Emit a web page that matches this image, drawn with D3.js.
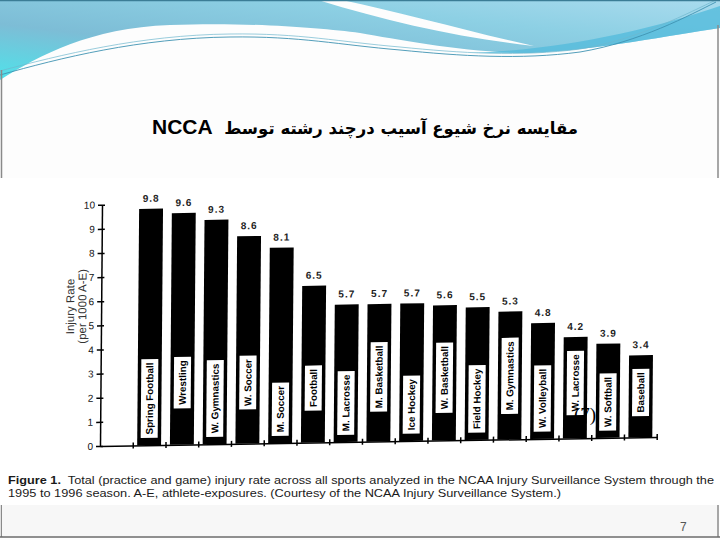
<!DOCTYPE html>
<html>
<head>
<meta charset="utf-8">
<script src="https://cdn.jsdelivr.net/npm/d3@7"></script>
<style>
  body { margin: 0; background: #fff; }
  svg { display: block; }
</style>
</head>
<body>
<script>
const WIDTH = 720;
const HEIGHT = 540;

// data
const categories = ["Spring Football", "Wrestling", "W. Gymnastics", "W. Soccer", "M. Soccer",
  "Football", "M. Lacrosse", "M. Basketball", "Ice Hockey", "W. Basketball", "Field Hockey",
  "M. Gymnastics", "W. Volleyball", "W. Lacrosse", "W. Softball", "Baseball"];
const rates = [9.8, 9.6, 9.3, 8.6, 8.1, 6.5, 5.7, 5.7, 5.7, 5.6, 5.5, 5.3, 4.8, 4.2, 3.9, 3.4];
const yTicks = [0, 1, 2, 3, 4, 5, 6, 7, 8, 9, 10];

const titleFa = "مقایسه نرخ شیوع آسیب درچند رشته توسط";
const titleEn = "NCCA";
const captionBold = "Figure 1.";
const caption1 = "  Total (practice and game) injury rate across all sports analyzed in the NCAA Injury Surveillance System through the";
const caption2 = "1995 to 1996 season. A-E, athlete-exposures. (Courtesy of the NCAA Injury Surveillance System.)";

const ORIGIN = {x: 100, y: 446};
const CHART_W = 556.7, CHART_H = 241.3;

const svg = d3.select("body").append("svg")
  .attr("width", WIDTH)
  .attr("height", HEIGHT);

svg.append("rect").attr("width", WIDTH).attr("height", HEIGHT).attr("fill", "#fdfdfd");

// slide decoration (top wave)
const defs = svg.append("defs");
const grad = defs.append("linearGradient").attr("id", "wave")
  .attr("x1", 0).attr("y1", 1).attr("x2", 1).attr("y2", 0);
grad.append("stop").attr("offset", 0).attr("stop-color", "#4fe2ea");
grad.append("stop").attr("offset", 0.35).attr("stop-color", "#7dbdd6");
grad.append("stop").attr("offset", 0.7).attr("stop-color", "#8dd0e4");
grad.append("stop").attr("offset", 1).attr("stop-color", "#a9dbee");

svg.append("path")
  .attr("d", "M0,0 L720,0 L720,28 C670,35 600,50 530,53 C470,53 400,40 360,33 C320,28 250,22 170,25 C90,28 40,55 0,80 Z")
  .attr("fill", "url(#wave)");
svg.append("path")
  .attr("d", "M470,53 C560,50 650,30 720,6 L720,28 C670,35 600,50 530,53 Z")
  .attr("fill", "#55bbdc").attr("opacity", 0.8);
svg.append("path")
  .attr("d", "M318,0 L342,0 C400,12 470,32 534,46 C460,38 390,22 318,0 Z")
  .attr("fill", "#fdfdfd");
svg.append("path")
  .attr("d", "M0,75 C60,58 140,38 230,37 C300,36 340,45 400,50 C460,56 520,60 580,52 C640,42 690,15 716,2")
  .attr("fill", "none").attr("stroke", "#3f93b2").attr("stroke-width", 0.9);
svg.append("path")
  .attr("d", "M0,71 C60,55 140,35 230,34 C300,33 340,42 400,47 C460,53 520,57 580,49 C640,39 690,12 716,0")
  .attr("fill", "none").attr("stroke", "#6fb7cf").attr("stroke-width", 0.7);

// slide frame
svg.append("line").attr("x1", 0).attr("x2", WIDTH).attr("y1", 0.5).attr("y2", 0.5)
  .attr("stroke", "#3b7d96").attr("stroke-width", 1.5);
svg.append("line").attr("x1", 1.5).attr("x2", 1.5).attr("y1", 70).attr("y2", HEIGHT - 3)
  .attr("stroke", "#8a8a8a").attr("stroke-width", 1.5);
svg.append("line").attr("x1", 718).attr("x2", 718).attr("y1", 25).attr("y2", HEIGHT - 3)
  .attr("stroke", "#8a8a8a").attr("stroke-width", 1.5);
svg.append("line").attr("x1", 0).attr("x2", WIDTH).attr("y1", HEIGHT - 3).attr("y2", HEIGHT - 3)
  .attr("stroke", "#6a6a6a").attr("stroke-width", 1.5);

// title
svg.append("text")
  .attr("x", 152).attr("y", 134)
  .attr("font-family", "Liberation Sans, Arial, sans-serif")
  .attr("font-weight", "bold").attr("font-size", 21)
  .attr("fill", "#000")
  .text(titleEn);

const fa = svg.append("text")
  .attr("x", 578).attr("y", 134)
  .attr("text-anchor", "end")
  .attr("font-family", "DejaVu Sans, Noto Sans, sans-serif")
  .attr("font-weight", "bold")
  .attr("font-size", 19)
  .attr("fill", "#000")
  .text(titleFa);
const faLen = fa.node().getComputedTextLength();
fa.attr("font-size", 19 * 354 / faLen);

// scanned figure area
svg.append("rect").attr("x", 0).attr("y", 178).attr("width", WIDTH).attr("height", 327)
  .attr("fill", "#fff");
svg.append("rect").attr("x", 2).attr("y", 505).attr("width", 715).attr("height", 31)
  .attr("fill", "#f7f7f7");

// slightly skewed, like the scan
const g = svg.append("g")
  .attr("transform", `matrix(1,-0.0162,-0.0083,1,${ORIGIN.x},${ORIGIN.y})`);

const Y_SCALE = d3.scaleLinear().domain([0, 10]).range([0, -CHART_H]);
const SLOTS = d3.scaleLinear().domain([0, 17]).range([0, CHART_W]);
const X_SCALE = d3.scaleBand().domain(categories)
  .range([SLOTS(1), SLOTS(17)])
  .paddingInner(0.27).paddingOuter(0.135);
const bw = X_SCALE.bandwidth();

g.selectAll(".bar")
  .data(categories)
  .enter().append("rect")
  .attr("class", "bar")
  .attr("x", d => X_SCALE(d))
  .attr("y", (d, i) => Y_SCALE(rates[i]))
  .attr("width", bw)
  .attr("height", (d, i) => -Y_SCALE(rates[i]))
  .attr("fill", "#000");

g.selectAll(".val")
  .data(categories)
  .enter().append("text")
  .attr("class", "val")
  .attr("x", d => X_SCALE(d) + bw / 2)
  .attr("y", (d, i) => Y_SCALE(rates[i]) - 7)
  .attr("text-anchor", "middle")
  .attr("font-family", "Liberation Sans, Arial, sans-serif")
  .attr("font-size", 10).attr("font-weight", "bold")
  .attr("letter-spacing", 1)
  .attr("fill", "#222")
  .text((d, i) => d3.format(".1f")(rates[i]));

// white name boxes inside the bars
const PAD = 3.5;
function boxBottom(i) {
  return i % 2 === 0 ? Y_SCALE(0.3) : Y_SCALE(1.55 - 0.045 * i);
}
const labels = g.selectAll(".lab")
  .data(categories)
  .enter().append("g")
  .attr("class", "lab");

labels.each(function(d, i) {
  const lg = d3.select(this);
  const cx = X_SCALE(d) + bw / 2;
  const bottom = boxBottom(i);
  const rect = lg.append("rect");
  const t = lg.append("text")
    .attr("transform", `translate(${cx},${bottom - PAD}) rotate(-90)`)
    .attr("dy", "0.36em")
    .attr("font-family", "Liberation Sans, Arial, sans-serif")
    .attr("font-size", 9.8).attr("font-weight", "bold")
    .attr("fill", "#000")
    .text(d);
  const len = t.node().getComputedTextLength();
  rect.attr("x", cx - 8.5).attr("y", bottom - len - 2 * PAD)
    .attr("width", 17).attr("height", len + 2 * PAD)
    .attr("fill", "#fff");
});

// axes
const xAxis = g.append("g")
  .call(d3.axisBottom(SLOTS).tickValues(d3.range(1, 18)).tickFormat("").tickSize(3).tickSizeOuter(0));
xAxis.selectAll(".tick line").attr("y1", -3);

const yAxis = g.append("g")
  .call(d3.axisLeft(Y_SCALE).tickValues(yTicks).tickSize(4).tickPadding(3).tickSizeOuter(0));
yAxis.selectAll(".tick line").attr("x1", 3);
yAxis.selectAll("text")
  .attr("font-family", "Liberation Sans, Arial, sans-serif")
  .attr("font-size", 10).attr("fill", "#111");

g.selectAll(".domain, .tick line").attr("stroke", "#000").attr("stroke-width", 1.5);

const yTitle = g.append("text")
  .attr("transform", `translate(-31,${Y_SCALE(5.8)}) rotate(-90)`)
  .attr("text-anchor", "middle")
  .attr("font-family", "Liberation Sans, Arial, sans-serif")
  .attr("font-size", 11.5).attr("fill", "#333");
yTitle.append("tspan").attr("x", 0).attr("dy", "0.35em").text("Injury Rate");
yTitle.append("tspan").attr("x", 0).attr("dy", "1.05em").text("(per 1000 A-E)");

// reference marker on the slide
svg.append("text")
  .attr("x", 574).attr("y", 421)
  .attr("font-family", "Liberation Serif, serif")
  .attr("font-size", 19).attr("fill", "#000")
  .text("(7)");

// caption
const cap = svg.append("text")
  .attr("x", 8).attr("y", 484)
  .attr("font-family", "Liberation Sans, Arial, sans-serif")
  .attr("font-size", 11.5).attr("fill", "#1a1a1a")
  .attr("textLength", 706).attr("lengthAdjust", "spacingAndGlyphs")
  .attr("xml:space", "preserve");
cap.append("tspan").attr("font-weight", "bold").text(captionBold);
cap.append("tspan").text(caption1);

svg.append("text")
  .attr("x", 8).attr("y", 497)
  .attr("font-family", "Liberation Sans, Arial, sans-serif")
  .attr("font-size", 11.5).attr("fill", "#1a1a1a")
  .attr("textLength", 553).attr("lengthAdjust", "spacingAndGlyphs")
  .text(caption2);

svg.append("text")
  .attr("x", 680).attr("y", 531)
  .attr("font-family", "Liberation Sans, Arial, sans-serif")
  .attr("font-size", 12).attr("fill", "#555")
  .text("7");
</script>
</body>
</html>
